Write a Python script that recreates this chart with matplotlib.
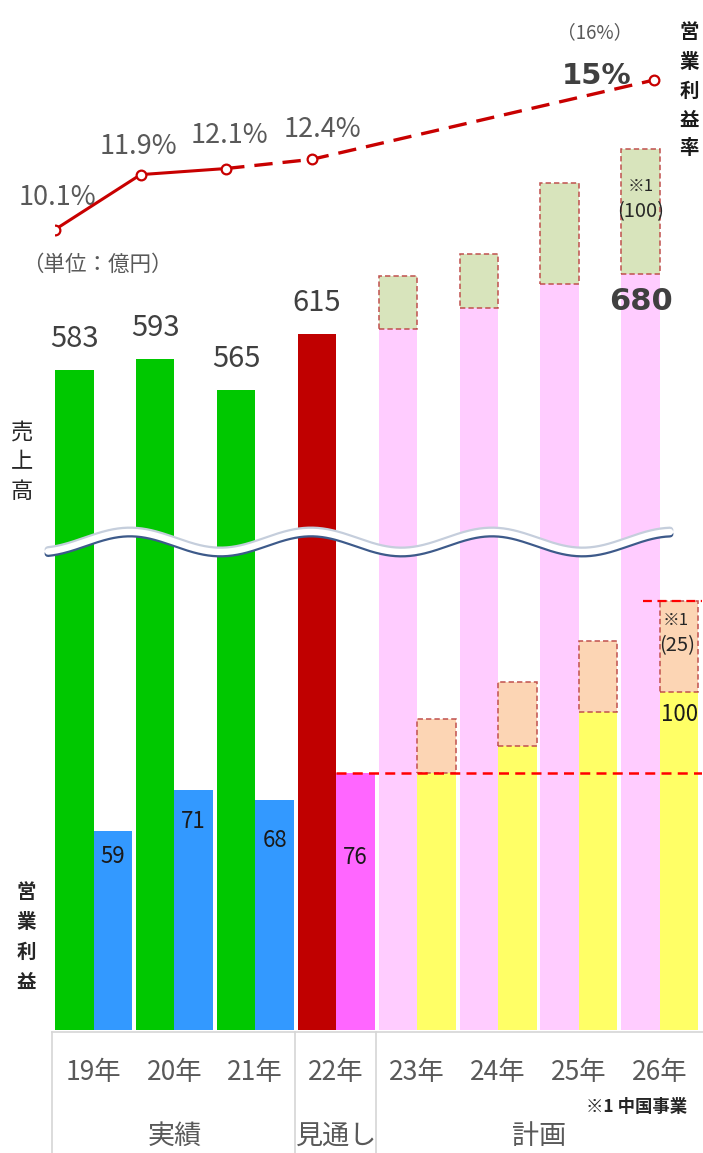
import numpy as np
import matplotlib
matplotlib.use("Agg")
import matplotlib.pyplot as plt
from matplotlib.transforms import blended_transform_factory

plt.rcParams['font.family'] = ['Noto Sans CJK JP', 'DejaVu Sans']

# ---------------- data ----------------
years = ["19年", "20年", "21年", "22年", "23年", "24年", "25年", "26年"]
periods = ["実績", "見通し", "計画"]
period_spans = [(0, 3), (3, 4), (4, 8)]

sales = [583, 593, 565, 615, 619, 638, 659, 668]
sales_china = [0, 0, 0, 0, 47, 48, 89, 110]
sales_labels = ["583", "593", "565", "615", "", "", "", "680"]

profit = [59, 71, 68, 76, 76, 84, 94, 100]
profit_china = [0, 0, 0, 0, 16, 19, 21, 27]
profit_labels = ["59", "71", "68", "76", "", "", "", "100"]

margin_idx = [0, 1, 2, 3, 7]
margin = [10.1, 11.9, 12.1, 12.4, 15.0]
margin_labels = ["10.1%", "11.9%", "12.1%", "12.4%", "15%"]

sales_colors = ["#00C800"] * 3 + ["#C00000"] + ["#FFCCFF"] * 4
profit_colors = ["#3399FF"] * 3 + ["#FF66FF"] + ["#FFFF66"] * 4

# ---------------- layout ----------------
W, H = 703, 1153
fig = plt.figure(figsize=(W / 100, H / 100), dpi=100)
x0, x1, yb = 55, 702.2, 1030
pos = [x0 / W, (H - yb) / H, (x1 - x0) / W, yb / H]
ax_s = fig.add_axes(pos)
ax_p = fig.add_axes(pos)
ax_m = fig.add_axes(pos)
ov = fig.add_axes([0, 0, 1, 1])
for a in (ax_s, ax_p, ax_m, ov):
    a.set_axis_off()
ax_s.set_xlim(0, 8); ax_s.set_ylim(0, 910)
ax_p.set_xlim(0, 8); ax_p.set_ylim(0, 304.7)
ax_m.set_xlim(0, 7.561); ax_m.set_ylim(-16.12, 17.62)
ov.set_xlim(0, W); ov.set_ylim(H, 0)

x = np.arange(len(years))
bw = 0.476
edge = "#C0504D"
dash_box = (0, (3.5, 2))

# sales bars
ax_s.bar(x, sales, width=bw, align='edge', color=sales_colors, linewidth=0)
for i in range(len(x)):
    if sales_china[i] > 0:
        ax_s.bar(x[i], sales_china[i], bottom=sales[i], width=bw, align='edge',
                 facecolor="#D8E4BC", edgecolor=edge, linestyle=dash_box, linewidth=1.1)

# profit bars
ax_p.bar(x + bw, profit, width=bw, align='edge', color=profit_colors, linewidth=0)
for i in range(len(x)):
    if profit_china[i] > 0:
        ax_p.bar(x[i] + bw, profit_china[i], bottom=profit[i], width=bw, align='edge',
                 facecolor="#FCD5B4", edgecolor=edge, linestyle=dash_box, linewidth=1.1)

# red dashed reference lines
ax_p.hlines(profit[3], 3 + bw, 8, colors="#FF0000", linestyles=(0, (4, 2.5)), lw=1.8, zorder=5)
ax_p.hlines(profit[7] + profit_china[7], 7.27, 8, colors="#FF0000",
            linestyles=(0, (4, 2.5)), lw=1.6, zorder=5)

# sales labels
sales_dy = [31, 31, 31, 31, 0, 0, 0, -28]
for i, lab in enumerate(sales_labels):
    if not lab:
        continue
    bold = (i == 7)
    ax_s.annotate(lab, (x[i] + bw / 2, sales[i]), xytext=(0, sales_dy[i]),
                  textcoords='offset pixels', ha='center', va='center',
                  fontsize=22 if bold else 21, color="#404040",
                  fontweight='bold' if bold else 'normal',
                  family='DejaVu Sans' if bold else ['Noto Sans CJK JP', 'DejaVu Sans'])
# China notes in sales box
top26 = sales[7] + sales_china[7]
ax_s.annotate("※1", (7 + bw / 2, top26), xytext=(0, -37), textcoords='offset pixels',
              ha='center', va='center', fontsize=12, color="#262626")
ax_s.annotate("(100)", (7 + bw / 2, top26), xytext=(0, -62), textcoords='offset pixels',
              ha='center', va='center', fontsize=14.5, color="#262626")

# profit labels
profit_dy = [-26, -32, -40, -84, 0, 0, 0, -23]
for i, lab in enumerate(profit_labels):
    if not lab:
        continue
    ax_p.annotate(lab, (x[i] + 1.5 * bw, profit[i]), xytext=(0, profit_dy[i]),
                  textcoords='offset pixels', ha='center', va='center',
                  fontsize=16, color="#1a1a1a")
ptop26 = profit[7] + profit_china[7]
ax_p.annotate("※1", (7 + 1.5 * bw, ptop26), xytext=(-3, -20), textcoords='offset pixels',
              ha='center', va='center', fontsize=12, color="#262626")
ax_p.annotate("(25)", (7 + 1.5 * bw, ptop26), xytext=(-2, -45), textcoords='offset pixels',
              ha='center', va='center', fontsize=14.5, color="#262626")

# margin line
lc = "#C80000"
ax_m.plot(margin_idx[:3], margin[:3], color=lc, lw=2.2, zorder=6)
ax_m.plot(margin_idx[2:], margin[2:], color=lc, lw=2.4, linestyle=(0, (5.5, 3)), zorder=6)
ax_m.plot(margin_idx, margin, linestyle='none', marker='o', ms=7, mfc='white',
          mec=lc, mew=1.6, zorder=7)
m_off = [(2, 32), (-2.5, 28), (3, 33), (11, 30), (-58, 4)]
for i, lab in enumerate(margin_labels):
    bold = (i == 4)
    ax_m.annotate(lab, (margin_idx[i], margin[i]), xytext=m_off[i],
                  textcoords='offset pixels', ha='center', va='center',
                  fontsize=21 if bold else 19.5,
                  color="#404040" if bold else "#595959",
                  fontweight='bold' if bold else 'normal',
                  family='DejaVu Sans' if bold else ['Noto Sans CJK JP', 'DejaVu Sans'])
ax_m.annotate("（16%）", (margin_idx[4], margin[4]), xytext=(-59, 47),
              textcoords='offset pixels', ha='center', va='center',
              fontsize=13.5, color="#595959")

# ---------------- decorations (overlay, pixel coordinates) ----------------
wx = np.linspace(48, 670, 400)
wy = 542 - 10 * np.cos(2 * np.pi * (wx - 130) / 181)
ov.plot(wx, wy - 2.0, color="#C5CEDC", lw=5, solid_capstyle='round', zorder=10)
ov.plot(wx, wy + 2.0, color="#3D5A8A", lw=5, solid_capstyle='round', zorder=11)
ov.plot(wx, wy, color="white", lw=4.6, solid_capstyle='round', zorder=12)

# table lines
tr = blended_transform_factory(ax_s.transData, ov.transData)
gl = "#D6D6D6"
ov.plot([52, 703], [1032, 1032], color=gl, lw=1.2)
for b in (0, 3, 4):
    ax_s.plot([b - 0.035, b - 0.035], [1032, H], color=gl, lw=1.2,
              transform=tr, clip_on=False)

for i, yl in enumerate(years):
    ax_s.text(x[i] + bw, 1072, yl, transform=tr, ha='center', va='center',
              fontsize=19, color="#595959", clip_on=False)
for (a, b), p in zip(period_spans, periods):
    ax_s.text((a + b) / 2 - 0.02, 1136, p, transform=tr, ha='center', va='center',
              fontsize=19.5, color="#595959", clip_on=False)
ov.text(687, 1107, "※1 中国事業", ha='right', va='center', fontsize=12.5,
        color="#262626", fontweight='bold')

ov.text(97, 265, "（単位：億円）", ha='center', va='center', fontsize=15.5, color="#595959")

for k, ch in enumerate("売上高"):
    ov.text(22, 432 + 30 * k, ch, ha='center', va='center', fontsize=16, color="#262626")
for k, ch in enumerate("営業利益"):
    ov.text(26, 893 + 29.7 * k, ch, ha='center', va='center', fontsize=14,
            color="#262626", fontweight='bold')
for k, ch in enumerate("営業利益率"):
    ov.text(689, 33 + 29 * k, ch, ha='center', va='center', fontsize=14,
            color="#1a1a1a", fontweight='bold')

fig.savefig("out.png", dpi=100)
